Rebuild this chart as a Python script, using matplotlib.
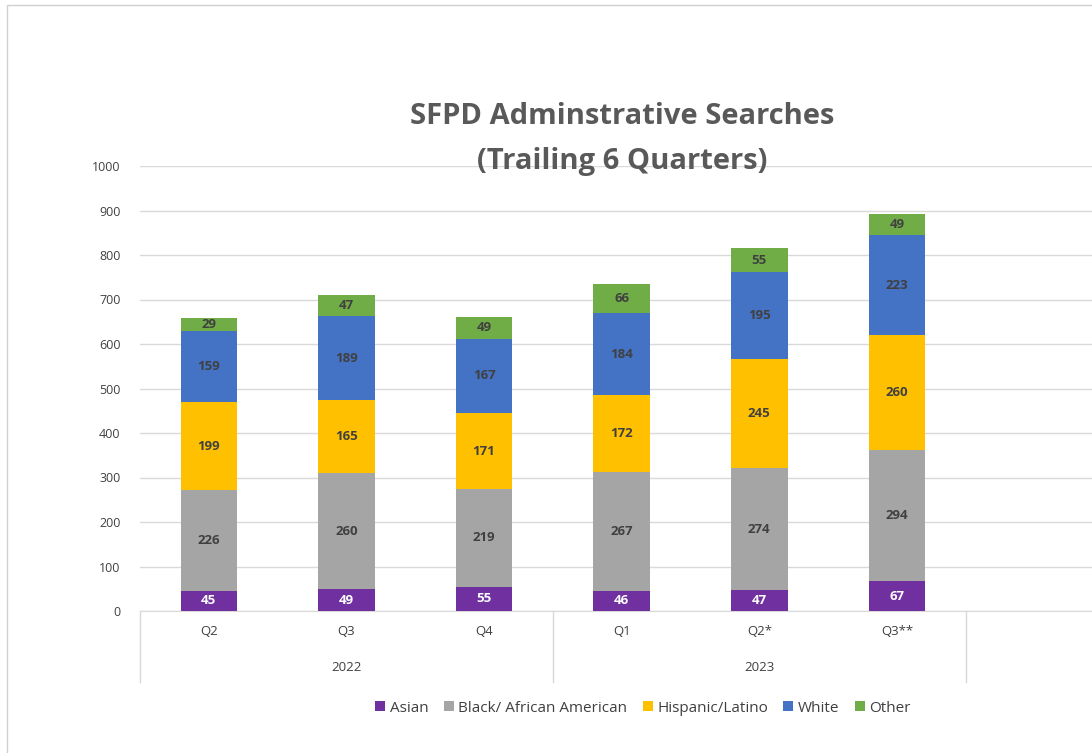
import matplotlib.pyplot as plt
from matplotlib.patches import Rectangle
from matplotlib.lines import Line2D
import numpy as np

# Data
quarters = ['Q2', 'Q3', 'Q4', 'Q1', 'Q2*', 'Q3**']
years = ['2022', '2023']
groups = ['Asian', 'Black/ African American', 'Hispanic/Latino', 'White', 'Other']
asian = [45, 49, 55, 46, 47, 67]
black = [226, 260, 219, 267, 274, 294]
hispanic = [199, 165, 171, 172, 245, 260]
white = [159, 189, 167, 184, 195, 223]
other = [29, 47, 49, 66, 55, 49]

colors = ['#7030A0', '#A5A5A5', '#FFC000', '#4472C4', '#70AD47']
label_colors = ['white', '#404040', '#404040', '#404040', '#404040']
series = [asian, black, hispanic, white, other]

plt.rcParams['font.family'] = ['Open Sans', 'DejaVu Sans']

fig = plt.figure(figsize=(10.92, 7.53), dpi=100)
ax = fig.add_axes([140/1092, 142/753, 1 - 140/1092, (611-166)/753])

x = np.arange(len(quarters))
bottom = np.zeros(len(quarters))
for vals, col, lc, name in zip(series, colors, label_colors, groups):
    bars = ax.bar(x, vals, 0.41, bottom=bottom, color=col, label=name, zorder=3)
    for xi, b, v in zip(x, bottom, vals):
        ax.text(xi, b + v/2, str(v), ha='center', va='center', fontsize=9.5,
                fontweight='bold', color=lc, zorder=4)
    bottom += np.array(vals)

ax.set_xlim(-0.5, (1092-209)/137.6)
ax.set_ylim(0, 1000)
ax.set_yticks(range(0, 1001, 100))
ax.yaxis.grid(True, color='#d9d9d9', linewidth=1, zorder=0)
ax.tick_params(axis='y', length=0, labelsize=9, labelcolor='#404040', pad=14)
ax.set_xticks([])
for s in ['top', 'right', 'left']:
    ax.spines[s].set_visible(False)
ax.spines['bottom'].set_color('#d9d9d9')

# two-level category labels
for xi, q in zip(x, quarters):
    ax.text(xi, -0.047, q, transform=ax.get_xaxis_transform(), ha='center',
            va='center', fontsize=9.5, color='#404040')
for i, yr in enumerate(years):
    ax.text(1 + 3*i, -0.128, yr, transform=ax.get_xaxis_transform(), ha='center',
            va='center', fontsize=9.5, color='#404040')
for sep in [-0.5, 2.5, 5.5]:
    ax.add_line(Line2D([sep, sep], [0, -0.16], transform=ax.get_xaxis_transform(),
                       color='#d9d9d9', linewidth=1, clip_on=False))

fig.text(622/1092, 1 - 117/753, 'SFPD Adminstrative Searches', ha='center',
         va='center', fontsize=21, fontweight='bold', color='#595959')
fig.text(622/1092, 1 - 161/753, '(Trailing 6 Quarters)', ha='center',
         va='center', fontsize=21, fontweight='bold', color='#595959')

handles, labels = ax.get_legend_handles_labels()
leg = fig.legend(handles, labels, loc='center', bbox_to_anchor=(643/1092, 1 - 708/753),
                 ncol=5, frameon=False, fontsize=11, handlelength=0.65, handleheight=0.65,
                 handletextpad=0.3, columnspacing=1.0)
for t in leg.get_texts():
    t.set_color('#404040')

# screenshot frame
fig.patches.append(Rectangle((7/1092, -0.1), 1.2, 1 - 5/753 + 0.1, transform=fig.transFigure,
                             fill=False, edgecolor='#d0d0d0', linewidth=1))

fig.savefig('out.png', dpi=100)
